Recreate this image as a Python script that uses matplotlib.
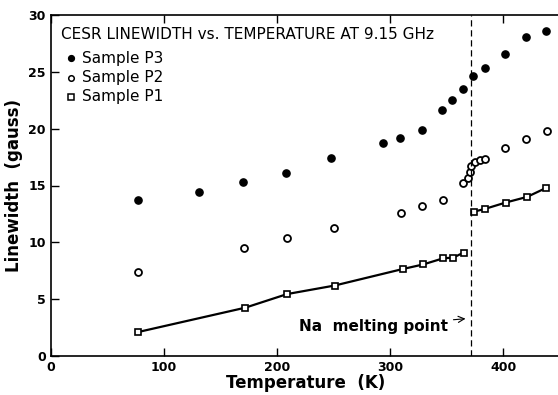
import matplotlib
matplotlib.use("Agg")
import matplotlib.pyplot as plt

# Data (Temperature in K, linewidth in gauss)
p3_T = [77, 131, 170, 208, 248, 294, 309, 328, 346, 355, 364, 373.5, 383.5, 401, 420, 438]
p3_L = [13.7, 14.4, 15.3, 16.1, 17.4, 18.7, 19.2, 19.85, 21.6, 22.5, 23.5, 24.6, 25.3, 26.6, 28.1, 28.6]

p2_T = [77, 171, 209, 250, 310, 328.5, 346.5, 364.4, 369, 370.3, 371.7, 375.3, 379.3, 383.8, 401.8, 420, 438.5]
p2_L = [7.4, 9.5, 10.4, 11.3, 12.55, 13.2, 13.7, 15.2, 15.7, 16.2, 16.7, 17.1, 17.2, 17.35, 18.3, 19.05, 19.8]

p1_solid_T = [77, 172, 209, 251, 311, 329, 347, 355.5, 365]
p1_solid_L = [2.1, 4.25, 5.45, 6.2, 7.65, 8.05, 8.6, 8.65, 9.1]
p1_liquid_T = [374, 384, 402, 421, 438]
p1_liquid_L = [12.7, 12.95, 13.5, 14.0, 14.8]

melting_T = 371

x_ticks = [0, 100, 200, 300, 400]
y_ticks = [0, 5, 10, 15, 20, 25, 30]

fig = plt.figure(figsize=(5.58, 3.95), dpi=100)
ax = fig.add_axes([50.5/558, 39/395, (560-50.5)/558, 341/395])

ax.set_xlim(0, 450)
ax.set_ylim(0, 30)

ax.plot(p3_T, p3_L, 'o', color='black', markersize=5.2, linestyle='none')
ax.plot(p2_T, p2_L, 'o', markerfacecolor='white', markeredgecolor='black',
        markeredgewidth=1.3, markersize=5.0, linestyle='none')
ax.plot(p1_solid_T, p1_solid_L, 's-', color='black', markerfacecolor='white',
        markeredgewidth=1.2, markersize=5.0, linewidth=1.6)
ax.plot(p1_liquid_T, p1_liquid_L, 's-', color='black', markerfacecolor='white',
        markeredgewidth=1.2, markersize=5.0, linewidth=1.6)

ax.axvline(melting_T, color='black', linestyle=(0, (5, 3)), linewidth=0.9)

ax.set_xticks(x_ticks)
ax.set_yticks(y_ticks)
ax.tick_params(direction='in', top=True, right=False, length=6, width=1,
               labelsize=9)
for lab in ax.get_xticklabels() + ax.get_yticklabels():
    lab.set_fontweight('bold')
ax.spines['right'].set_visible(False)
for s in ['left', 'bottom', 'top']:
    ax.spines[s].set_linewidth(1.2)

ax.set_xlabel('Temperature  (K)', fontsize=12, fontweight='bold', labelpad=0)
ax.set_ylabel('Linewidth  (gauss)', fontsize=12, fontweight='bold', labelpad=4)

ax.text(9, 28.3, 'CESR LINEWIDTH vs. TEMPERATURE AT 9.15 GHz', fontsize=11,
        va='center', ha='left')

# legend
leg_y = [26.2, 24.5, 22.8]
ax.plot(18, leg_y[0], 'o', color='black', markersize=4.2)
ax.plot(18, leg_y[1], 'o', markerfacecolor='white', markeredgecolor='black',
        markeredgewidth=1.1, markersize=4.0)
ax.plot(18, leg_y[2], 's', markerfacecolor='white', markeredgecolor='black',
        markeredgewidth=1.1, markersize=4.0)
for y, t in zip(leg_y, ['Sample P3', 'Sample P2', 'Sample P1']):
    ax.text(28, y, t, fontsize=11, va='center', ha='left')

ax.annotate('Na  melting point', xy=(369, 3.3), xytext=(351, 2.6),
            fontsize=11, fontweight='bold', ha='right', va='center',
            arrowprops=dict(arrowstyle='->', color='black', lw=0.8))

fig.savefig('out.png', dpi=100)
